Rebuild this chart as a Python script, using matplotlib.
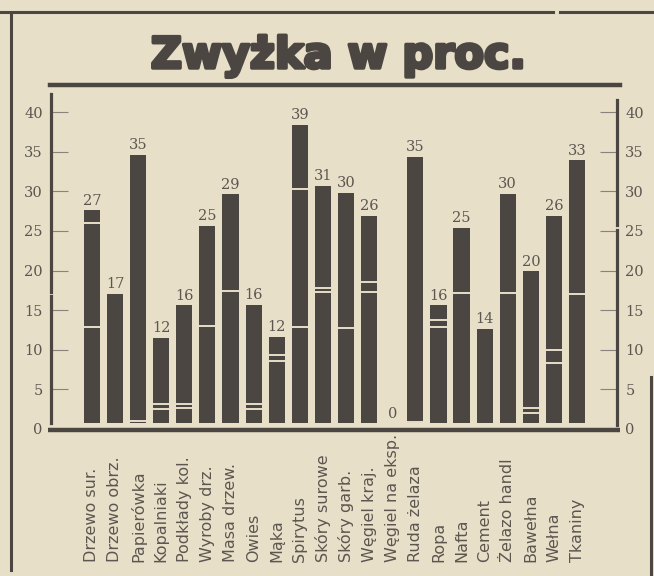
import matplotlib
matplotlib.use('Agg')
import matplotlib.pyplot as plt
import matplotlib.patheffects as pe
from matplotlib.lines import Line2D
import numpy as np

categories = ["Drzewo sur.", "Drzewo obrz.", "Papierówka", "Kopalniaki",
              "Podkłady kol.", "Wyroby drz.", "Masa drzew.", "Owies", "Mąka",
              "Spirytus", "Skóry surowe", "Skóry garb.", "Węgiel kraj.",
              "Węgiel na eksp.", "Ruda żelaza", "Ropa", "Nafta", "Cement",
              "Żelazo handl", "Bawełna", "Wełna", "Tkaniny"]
# printed percentages above the bars
values = [27, 17, 35, 12, 16, 25, 29, 16, 12, 39, 31, 30, 26, 0, 35, 16, 25,
          14, 30, 20, 26, 33]
# bar tops as drawn in the print (not always equal to the label)
bar_tops = [27.6, 17.1, 34.6, 11.5, 15.6, 25.6, 29.6, 15.7, 11.6, 38.4, 30.7,
            29.8, 26.9, 0, 34.3, 15.6, 25.4, 12.6, 29.7, 19.9, 26.9, 33.9]
# white dividing lines inside each bar
breaks = [[26.0, 12.9], [], [1.05], [3.15, 2.5], [3.2, 2.6], [13.0], [17.45],
          [3.2, 2.5], [9.3, 8.6], [30.25, 12.9], [17.75, 17.3], [12.8],
          [18.6, 17.3], [], [0.9], [13.7, 12.9], [17.2], [], [17.2],
          [2.7, 2.05], [10.0, 8.3], [17.0]]
yticks = [0, 5, 10, 15, 20, 25, 30, 35, 40]

paper = '#e8dfc9'
ink = '#4c4642'
text_ink = '#5c5650'

fig = plt.figure(figsize=(6.54, 5.76), dpi=100)
fig.patch.set_facecolor(paper)

ax = fig.add_axes([51 / 654, 147 / 576, 566 / 654, 332.8 / 576])
ax.set_facecolor(paper)
x = np.arange(len(categories))
base = 0.7
w = 0.7
tops = np.array(bar_tops)
heights = np.where(tops > 0, tops - base, 0)
ax.bar(x, heights, bottom=base, width=w, color=ink, zorder=2)
for i, br in enumerate(breaks):
    for b in br:
        ax.hlines(b, i - w / 2 - 0.02, i + w / 2 + 0.02, color=paper, lw=1.4, zorder=3)
for i, v in enumerate(values):
    ax.annotate(str(v), (i, max(bar_tops[i], base)), xytext=(0, 2),
                textcoords='offset points', ha='center', va='bottom',
                fontsize=10.5, family='DejaVu Serif', color=text_ink)
    ax.text(i, -0.40, categories[i], transform=ax.get_xaxis_transform(),
            rotation=90, ha='center', va='bottom', fontsize=11.5,
            family='DejaVu Sans', color=text_ink)

ax.set_xlim(-1.77, 22.73)
ax.set_ylim(0, 42)
ax.set_xticks([])
ax.set_yticks(yticks)
for s in ax.spines.values():
    s.set_visible(False)
ax.tick_params(axis='y', which='both', direction='in', length=12.5, width=0.8,
               color='#8a837a', left=True, right=True, labelleft=True,
               labelright=True, pad=6, labelsize=10.5, labelcolor=text_ink)
for lab in ax.get_yticklabels():
    lab.set_family('DejaVu Serif')

# thick axis rules, broken like in the print
xl, xr = -1.77, 22.73
ax.plot([xl, xl], [0.75, 16.8], color=ink, lw=2.3, clip_on=False, zorder=4)
ax.plot([xl, xl], [17.3, 42.3], color=ink, lw=2.3, clip_on=False, zorder=4)
ax.plot([xr, xr], [0.5, 25.1], color=ink, lw=2.3, clip_on=False, zorder=4)
ax.plot([xr, xr], [25.7, 41.5], color=ink, lw=2.3, clip_on=False, zorder=4)
ax.plot([-1.9, 22.86], [-0.15, -0.15], color=ink, lw=3.2, clip_on=False,
        zorder=4, solid_capstyle='butt')

# title and frame
fig.text(338 / 654, 1 - 68 / 576, 'Zwyżka w proc.', ha='center', va='baseline',
         fontsize=31, fontweight='heavy', family='DejaVu Sans', color=ink,
         path_effects=[pe.withStroke(linewidth=2.5, foreground=ink)])
fig.add_artist(Line2D([50 / 654, 620 / 654], [1 - 85 / 576] * 2, color=ink, lw=3.2))
fig.add_artist(Line2D([0, 553 / 654], [1 - 12 / 576] * 2, color=ink, lw=2.2))
fig.add_artist(Line2D([560 / 654, 1], [1 - 12 / 576] * 2, color=ink, lw=2.2))
fig.add_artist(Line2D([11 / 654] * 2, [1 - 14 / 576, 6 / 576], color=ink, lw=2.2))
fig.add_artist(Line2D([651 / 654] * 2, [0, 1 - 377 / 576], color=ink, lw=2.2))

fig.savefig('out.png', dpi=100, facecolor=fig.get_facecolor())
